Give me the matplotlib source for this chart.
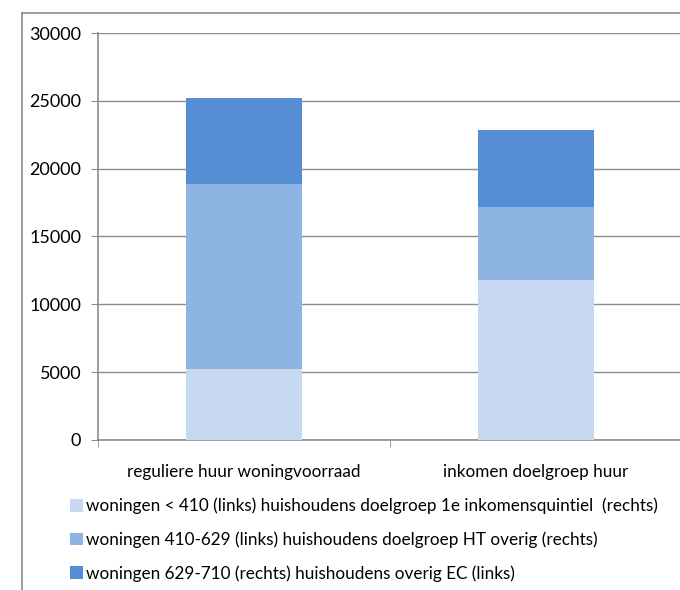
import numpy as np
import matplotlib
matplotlib.use("Agg")
import matplotlib.pyplot as plt
from matplotlib.lines import Line2D
from matplotlib.patches import Patch

plt.rcParams['font.family'] = ['Lato', 'DejaVu Sans']

# categories and stacked segments (aantallen)
categories = ['reguliere huur woningvoorraad', 'inkomen doelgroep huur']
series_labels = [
    'woningen < 410 (links) huishoudens doelgroep 1e inkomensquintiel  (rechts)',
    'woningen 410-629 (links) huishoudens doelgroep HT overig (rechts)',
    'woningen 629-710 (rechts) huishoudens overig EC (links)',
]
laag = [5200, 11800]
midden = [13700, 5400]
hoog = [6300, 5650]
colors = ['#C6D9F1', '#8EB4E3', '#558ED5']

fig = plt.figure(figsize=(6.8, 5.9), dpi=100)
ax = fig.add_axes([98 / 680, 1 - 440 / 590, 584 / 680, 407 / 590])

x = np.arange(len(categories))
bottom = np.zeros(len(categories))
handles = []
for vals, col, lab in zip([laag, midden, hoog], colors, series_labels):
    ax.bar(x, vals, width=0.4, bottom=bottom, color=col, zorder=3)
    bottom += np.array(vals)
    handles.append(Patch(facecolor=col, edgecolor='none', label=lab))

ax.set_xlim(-0.5, 1.5)
ax.set_ylim(0, 30000)
ax.set_yticks(np.arange(0, 30001, 5000))
ax.yaxis.grid(True, color='#8c8c8c', linewidth=1.0, zorder=0)

ax.set_xticks(x)
ax.set_xticklabels(categories, fontsize=12.3)
ax.set_xticks([-0.5, 0.5, 1.5], minor=True)
ax.tick_params(axis='x', which='major', length=0, pad=17)
ax.tick_params(axis='x', which='minor', length=5, color='#8c8c8c')
ax.tick_params(axis='y', length=5, color='#8c8c8c', labelsize=13, pad=7)

for side in ['top', 'right']:
    ax.spines[side].set_visible(False)
for side in ['left', 'bottom']:
    ax.spines[side].set_color('#8c8c8c')
    ax.spines[side].set_linewidth(1.2)

fig.legend(handles=handles, loc='upper left', bbox_to_anchor=(63 / 680, 1 - 491 / 590),
           frameon=False, fontsize=12.3, handlelength=0.75, handleheight=0.75,
           handletextpad=0.2, labelspacing=1.0, borderaxespad=0)

# chart area border
fig.add_artist(Line2D([22 / 680, 22 / 680], [0, 1 - 13 / 590], transform=fig.transFigure,
                      color='#8c8c8c', linewidth=1.2))
fig.add_artist(Line2D([22 / 680, 1], [1 - 13 / 590, 1 - 13 / 590], transform=fig.transFigure,
                      color='#8c8c8c', linewidth=1.2))

fig.savefig('out.png', dpi=100)
